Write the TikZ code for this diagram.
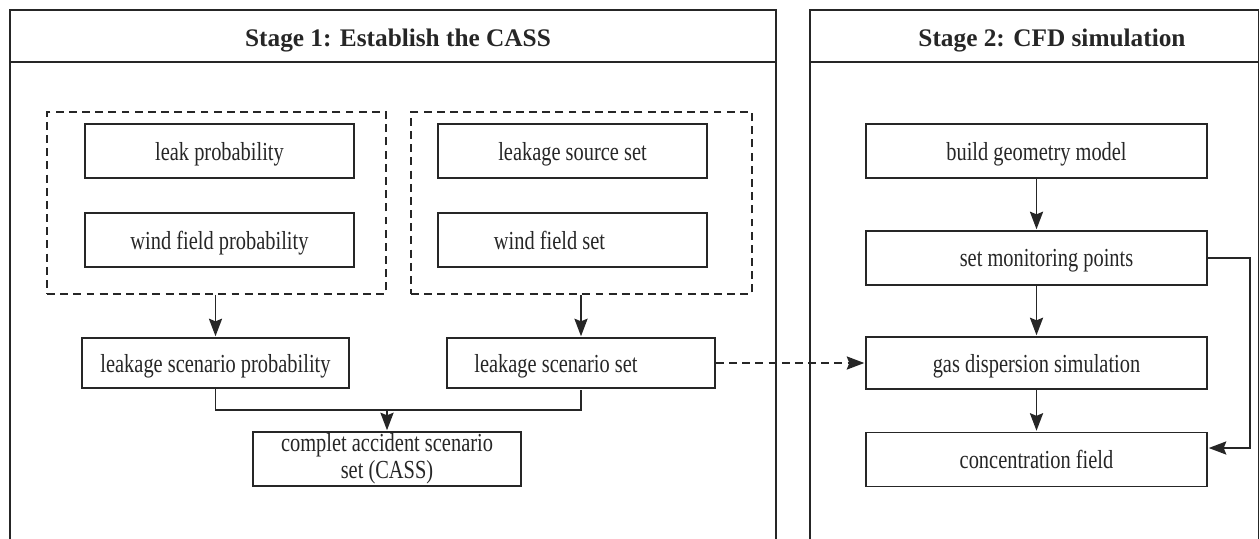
\documentclass[tikz,border=0pt]{standalone}
\usepackage{fontspec}
\setmainfont{Liberation Serif}
\newfontfamily\boxfont{Liberation Serif}[FakeStretch=0.785]
\usetikzlibrary{arrows.meta,positioning}

\definecolor{ink}{HTML}{262626}

\begin{document}
\begin{tikzpicture}[
    x = 0.02cm, y = -0.02cm, % one unit per pixel, y going down
    > = {Stealth[length=10pt,width=7.5pt,inset=1.5pt]}, % arrow head style
    shorten > = 0.5pt, % arrow head nearly on the box
    line width = 1pt, % line style
    color = ink
    ]

    \tikzset{
    box/.style = {
    draw = ink,
    rectangle,
    minimum width = 5.38cm,
    minimum height = 1.08cm,
    inner sep = 0pt,
    text depth = 0pt,
    font = \boxfont\fontsize{14.8}{15.5}\selectfont
    },
    group/.style = {
    draw = ink,
    dash pattern = on 4.5pt off 3pt,
    minimum width = 6.78cm,
    minimum height = 3.64cm
    },
    head/.style = {
    font = \bfseries\fontsize{14.4}{16}\selectfont
    }
    }

    \useasboundingbox (0,0) rectangle (1260,538);

    % stage frames
    \draw (10,545) -- (10,10) -- (776,10) -- (776,545);
    \draw (10,62) -- (776,62);
    \draw (810,545) -- (810,10) -- (1258.5,10) -- (1258.5,545);
    \draw (810,62) -- (1258.5,62);
    \node[head] (stage1) at (398,41) {Stage 1: Establish the CASS};
    \node[head] (stage2) at (1052,41) {Stage 2: CFD simulation};

    % stage 1
    \node[box] (leak) at (219.5,151) {leak probability};
    \node[box] (wfp) at (219.5,240) {wind field probability};
    \node[box] (src) at (572.5,151) {leakage source set};
    \node[box] (wfs) at (572.5,240) {\hspace*{-0.92cm}wind field set};
    \node[group] (g1) at (216.5,203) {};
    \node[group, minimum width = 6.82cm] (g2) at (581.5,203) {};

    \node[box, minimum width = 5.34cm, minimum height = 1cm] (lsp) at (215.5,363) {leakage scenario probability};
    \node[box, minimum width = 5.36cm, minimum height = 1cm] (lss) at (581,363) {\hspace*{-1cm}leakage scenario set};
    \node[box, minimum width = 5.36cm, align = center, text depth = ] (cass) at (387,459) {complet accident scenario\\set (CASS)};

    \draw[->] (g1.south -| lsp) -- (lsp);
    \draw[->] (g2.south -| lss) -- (lss);
    \coordinate (join) at (387,410);
    \draw (lsp.south) |- (join) -| (lss.south);
    \draw[->] (join) -- (cass);

    % stage 2
    \node[box, minimum width = 6.82cm] (build) at (1036.5,151) {build geometry model};
    \node[box, minimum width = 6.82cm] (smp) at (1036.5,258) {\hspace*{0.4cm}set monitoring points};
    \node[box, minimum width = 6.82cm, minimum height = 1.04cm] (gds) at (1036.5,363) {gas dispersion simulation};
    \node[box, minimum width = 6.82cm] (cf) at (1036.5,459.5) {concentration field};

    \draw[->] (build) -- (smp);
    \draw[->] (smp) -- (gds);
    \draw[->] (gds) -- (cf);
    \coordinate (fb) at (1250,448);
    \draw[->] (smp.east) -| (fb) -- (cf.east |- fb);

    \draw[->, dash pattern = on 4.5pt off 3pt] (lss) -- (gds);

\end{tikzpicture}
\end{document}
